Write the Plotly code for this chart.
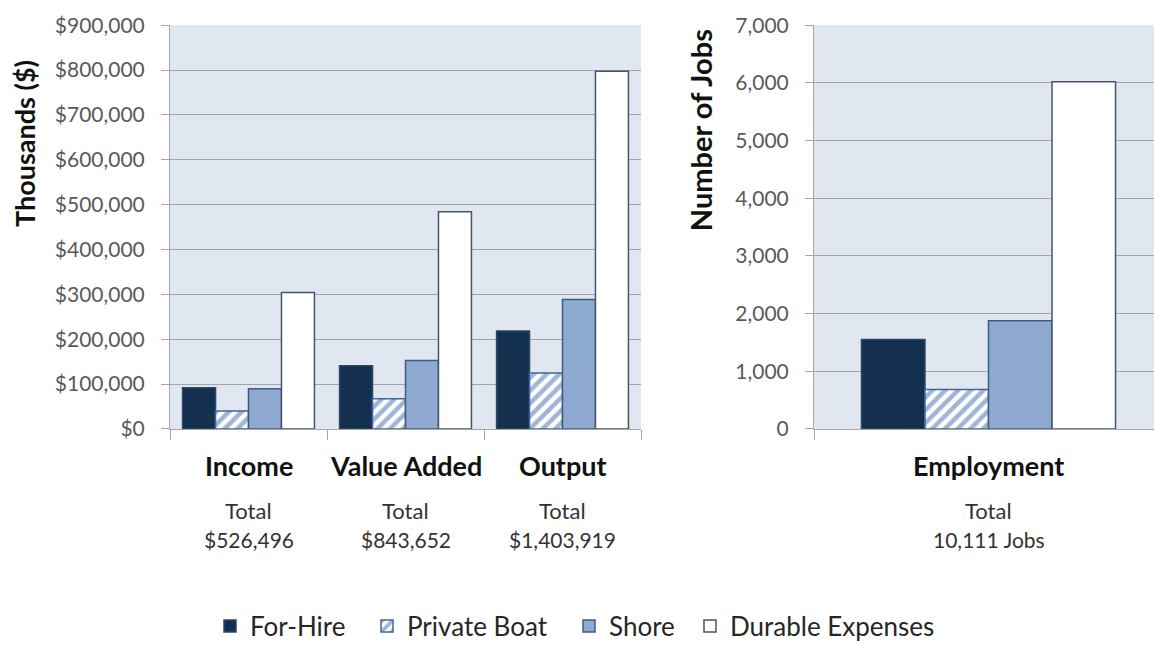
import plotly.graph_objects as go

# Economic impact categories (left panel) and employment (right panel)
categories = ["Income", "Value Added", "Output"]
category_totals = ["$526,496", "$843,652", "$1,403,919"]

series_names = ["For-Hire", "Private Boat", "Shore", "Durable Expenses"]

# Thousands of dollars per series, ordered as categories
for_hire = [91800, 140800, 218500]
private_boat = [40300, 67600, 124800]
shore = [89600, 152500, 288300]
durable = [304400, 484000, 797300]

jobs_category = ["Employment"]
jobs_total = ["10,111 Jobs"]
jobs_for_hire = [1552]
jobs_private_boat = [685]
jobs_shore = [1877]
jobs_durable = [6019]

FONT = "Lato, 'Open Sans', sans-serif"
fills = ["#14304f", "#ffffff", "#8eaad0", "#ffffff"]
borders = ["#2c4766", "#3f64a0", "#3f5b82", "#46556b"]
patterns = [None, dict(shape="/", fgcolor="#3f6cab", bgcolor="#ffffff", size=9, solidity=0.5), None, None]

money_series = [for_hire, private_boat, shore, durable]
job_series = [jobs_for_hire, jobs_private_boat, jobs_shore, jobs_durable]

W, H = 1154, 650


def fy(px):
    """Pixel row from the top -> paper fraction."""
    return 1 - px / H


# each legend entry gets its own legend box, placed left-anchored
legend_ids = ["legend", "legend2", "legend3", "legend4"]
legend_text_x = [250, 407, 609, 730]

fig = go.Figure()

# bar widths in category units for each panel
left_w = 0.21
right_w = 0.182

for i, name in enumerate(series_names):
    marker = dict(color=fills[i], line=dict(color=borders[i], width=1.5))
    if patterns[i]:
        marker["pattern"] = patterns[i]
    fig.add_trace(go.Bar(
        x=categories, y=money_series[i], name=name, legendgroup=name,
        legend=legend_ids[i],
        marker=marker, width=left_w, offset=-2 * left_w + i * left_w,
        xaxis="x", yaxis="y",
    ))
    fig.add_trace(go.Bar(
        x=jobs_category, y=job_series[i], name=name, legendgroup=name,
        showlegend=False, marker=marker, width=right_w,
        offset=-2 * right_w + i * right_w, xaxis="x2", yaxis="y2",
    ))

y_dom = [fy(435), fy(25.5)]
axis_gray = "#a6a6a6"
tick_font = dict(family=FONT, size=21, color="#595959")

common_y = dict(
    showgrid=True, gridcolor="#a3a7ad", gridwidth=1,
    showline=True, linecolor=axis_gray, linewidth=1,
    ticks="outside", ticklen=8, tickcolor=axis_gray,
    tickfont=tick_font, ticklabelstandoff=12, zeroline=False,
    domain=y_dom, automargin=False,
)
common_x = dict(
    type="category", showline=True, linecolor=axis_gray, linewidth=1,
    ticks="outside", ticklen=10, tickcolor=axis_gray, tickson="boundaries",
    showticklabels=False, showgrid=False, automargin=False,
)

legend_style = dict(
    orientation="h", xanchor="left", yanchor="middle", y=fy(635),
    font=dict(family=FONT, size=26, color="#262626"),
    bgcolor="rgba(0,0,0,0)", borderwidth=0,
)
legends = {}
for lid, tx in zip(legend_ids, legend_text_x):
    legends[lid] = dict(legend_style, x=(tx - 40) / W)

fig.update_layout(
    width=W, height=H,
    margin=dict(l=0, r=0, t=0, b=0),
    paper_bgcolor="#ffffff", plot_bgcolor="#e1e7f0",
    barmode="overlay",
    font=dict(family=FONT, color="#262626"),
    xaxis=dict(common_x, domain=[170 / W, 641 / W], range=[-0.5, 2.5]),
    yaxis=dict(common_y, range=[0, 900000], dtick=100000, tickprefix="$", tickformat=","),
    xaxis2=dict(common_x, domain=[814 / W, 1.0], range=[-0.5, -0.5 + 340 / 349], anchor="y2"),
    yaxis2=dict(common_y, range=[0, 7000], dtick=1000, tickformat=",", anchor="x2"),
    showlegend=True,
    **legends,
)

annotations = []


def add_category_labels(cats, totals, xref):
    for cat, tot in zip(cats, totals):
        annotations.append(dict(x=cat, xref=xref, y=fy(472), yref="paper",
                                xanchor="center", yanchor="middle",
                                text=f"<b>{cat}</b>", showarrow=False,
                                font=dict(family=FONT, size=27, color="#111111")))
        annotations.append(dict(x=cat, xref=xref, y=fy(518), yref="paper",
                                xanchor="center", yanchor="middle",
                                text="Total", showarrow=False,
                                font=dict(family=FONT, size=22, color="#333333")))
        annotations.append(dict(x=cat, xref=xref, y=fy(547), yref="paper",
                                xanchor="center", yanchor="middle",
                                text=tot, showarrow=False,
                                font=dict(family=FONT, size=21, color="#333333")))


add_category_labels(categories, category_totals, "x")
add_category_labels(jobs_category, jobs_total, "x2")

annotations.append(dict(x=25 / W, y=fy(146), xref="paper", yref="paper",
                        xanchor="center", yanchor="middle",
                        text="<b>Thousands ($)</b>", textangle=-90, showarrow=False,
                        font=dict(family=FONT, size=27, color="#111111")))
annotations.append(dict(x=700 / W, y=fy(132), xref="paper", yref="paper",
                        xanchor="center", yanchor="middle",
                        text="<b>Number of Jobs</b>", textangle=-90, showarrow=False,
                        font=dict(family=FONT, size=29, color="#111111")))

fig.update_layout(annotations=annotations)

fig.write_html("out.html")
